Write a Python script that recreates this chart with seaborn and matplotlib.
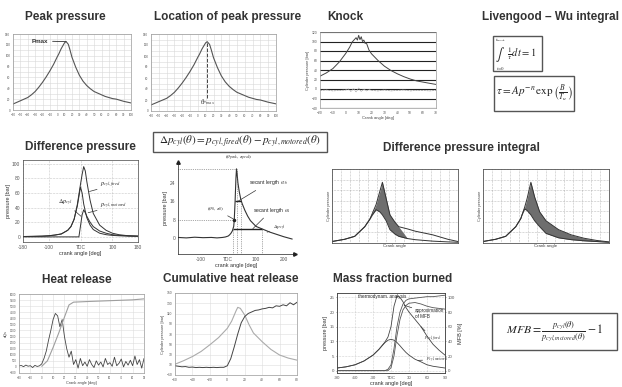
import numpy as np
import matplotlib
matplotlib.use("Agg")
import matplotlib.pyplot as plt
import matplotlib.patches as mpatches
import seaborn as sns

sns.set_theme(style="white")
plt.rcParams['font.family'] = ['Liberation Sans', 'DejaVu Sans']
plt.rcParams['mathtext.fontset'] = 'stix'

# ---------------- data ----------------
peak_angle = [-60, -55, -50, -45, -40, -35, -30, -25, -20, -15, -10, -5, 0, 2, 5, 7, 10, 12, 15, 17, 20, 25,
              30, 35, 40, 45, 50, 55, 60, 65, 70, 75, 80, 85, 90, 95, 100]
peak_pressure = [11, 14, 17, 20, 23, 28, 34, 42, 51, 61, 72, 84, 98, 103, 112, 117, 124, 126, 121, 112, 97, 79,
                 64, 53, 45, 39, 34, 31, 28, 25, 23, 21, 20, 18, 16, 14.5, 13]
peak_xticks = list(range(-60, 101, 10))
peak_yticks = list(range(0, 141, 20))

knock_angle = [-20, -15, -10, -5, 0, 3, 5, 7, 8, 9, 10, 11, 12, 13, 14, 15, 16, 18, 20, 25, 30, 35, 40, 45, 50, 55, 60, 65, 70]
knock_pressure = [27, 34, 43, 57, 75, 88, 99, 105, 108, 103, 113, 104, 110, 100, 103, 96, 97, 82, 74, 60, 48, 39, 32, 26, 21, 17, 14.5, 12, 9.6]
knock_sig_angle = [-20, -15, -10, -5, 0, 2, 4, 6, 8, 10, 12, 14, 16, 18, 20, 25, 30, 35, 40, 45, 50, 55, 60, 65, 70]
knock_sig = [-3, -2, -4, -3, -2, 0, -5, 1, -6, 2, -5, 0, -4, -1, -3, -4, -2, -4, -3, -2, -4, -3, -3, -4, -3]
knock_xticks = list(range(-20, 71, 10))
knock_yticks = list(range(-40, 121, 20))

dp_angle = [-180, -150, -120, -100, -80, -60, -40, -30, -20, -10, -5, 0, 5, 10, 15, 20, 30, 40, 60, 80, 100, 120, 150, 180]
p_motored = [0.5, 0.7, 1, 1.5, 2.5, 4, 9, 14, 24, 42, 55, 68, 60, 45, 35, 26, 16, 10, 5, 3, 2, 1.5, 1, 0.8]
p_fired = [0.5, 0.7, 1, 1.5, 2.5, 4, 9, 14, 24, 44, 58, 72, 85, 96, 90, 75, 50, 32, 16, 9, 5, 3, 1.5, 1]
dp_cyl = [0, 0, 0, 0, 0, 0, 0, 0, 0, 0, 0, 15, 30, 37, 33, 28, 20, 14, 8, 5, 3, 2, 1.5, 1]
dp_xticks = [-180, -100, 0, 100, 180]
dp_xticklabels = ['-180', '-100', 'TDC', '100', '180']

sec_angle = [-180, -150, -120, -90, -60, -40, -20, -10, 0, 5, 10, 15, 20, 22, 25, 28, 30, 32, 35, 40, 45, 50, 60, 70, 80, 100, 120, 150, 200, 230]
sec_dp = [0.2, 0.0, 0.3, 0.1, 0.2, 0.0, 0.2, 0.4, 0.8, 1.3, 2.0, 3.0, 5, 8, 16, 26, 30, 28, 24, 20, 17, 15, 12, 9.5, 7.5, 5, 4, 2.5, 0.5, -0.5]
sec_xticks = [-100, 0, 100, 200]
sec_xticklabels = ['-100', 'TDC', '100', '200']
sec_yticks = [0, 8, 16, 24]

intA_angle = [0, 10, 18, 26, 30, 32, 35, 38, 40, 43, 46, 50, 53, 60, 66, 80, 92, 100]
intA_motored = [2, 5, 9, 22, 32, 38, 45, 42, 38, 30, 18, 12, 9, 6, 4.5, 2.5, 1.5, 1]
intA_fired = [2, 5, 9, 22, 32, 40, 52, 70, 82, 60, 38, 28, 22, 19, 16, 11, 5, 2]
intB_angle = [0, 10, 18, 26, 30, 31, 33, 35, 38, 41, 45, 50, 60, 70, 80, 90, 100]
intB_motored = [2, 5, 9, 22, 33, 38, 46, 44, 38, 30, 22, 13, 7, 4.5, 3, 2, 1]
intB_fired = [2, 5, 9, 22, 33, 38, 48, 60, 82, 62, 42, 30, 18, 11, 6.5, 3.5, 1.5]

hr_angle = list(range(-20, 91, 2))
hr_rate = [80, 120, 20, 150, 60, 100, -50, 130, 40, 90, 250, 700, 1300, 2200, 3000, 3900, 4400, 4200,
           3300, 3900, 2500, 1500, 800, 1300, 200, 600, -100, 700, 100, 400, 50, 600, 200, -50, 500, 150,
           400, 0, 700, 200, 350, 50, 800, 100, 300, 650, 0, 450, 150, 550, 100, 900, 200, 600, -100, 700]
hr_cum_angle = [0, 5, 10, 15, 20, 24, 28, 40, 60, 80, 90]
hr_cum = [50, 500, 1600, 2800, 4100, 5100, 5330, 5380, 5450, 5520, 5600]
hr_xticks = list(range(-20, 91, 10))
hr_yticks = list(range(-500, 6001, 500))

chr_angle = [-60, -56, -52, -48, -44, -40, -36, -32, -28, -24, -20, -16, -12, -8, -4, 0, 4, 8, 12, 16, 20,
             24, 28, 32, 36, 40, 44, 48, 52, 56, 60, 64, 68, 72, 76, 80]
chr_cum = [8, 7, 6, 6.5, 5, 5.5, 4.5, 5, 4.5, 5, 4.5, 5, 4.5, 5, 5, 8, 22, 45, 70, 92, 104,
           110, 113, 116, 117, 119, 120, 122, 121, 125, 124, 127, 125, 131, 127, 132]
chr_p_angle = [-60, -50, -40, -30, -20, -10, 0, 5, 10, 12, 15, 20, 25, 30, 40, 50, 60, 70, 80]
chr_pressure = [11, 18, 26, 36, 49, 63, 81, 95, 115, 122, 120, 107, 88, 72, 55, 40, 29, 23, 19]
chr_xticks = list(range(-60, 81, 20))
chr_yticks = list(range(-10, 151, 20))

mfb_angle = [-90, -75, -60, -45, -30, -20, -10, -5, 0, 5, 10, 15, 20, 25, 30, 40, 50, 60, 70, 80, 90]
mfb_motored = [0.9, 1.3, 2.0, 3.3, 5.3, 7.3, 9.6, 10.4, 10.7, 10.4, 9.6, 8.5, 7.3, 6.2, 5.3, 3.9, 3.0, 2.0, 1.5, 1.2, 0.9]
mfb_fired = [0.9, 1.3, 2.0, 3.3, 5.3, 7.3, 9.8, 11.5, 15, 22, 25.5, 25, 23.5, 21.5, 20, 17.5, 15, 11.8, 9, 7, 5.3]
mfb_thermo = [0, 0, 0, 0, 0, 0, 0, 2, 8, 30, 60, 80, 91, 96, 98, 99, 100, 101, 101, 102, 103]
mfb_approx = [0, 0, 0, 0, 0, 0, 0, 0, 4, 20, 48, 70, 83, 89, 92, 93, 91, 88, 86, 85, 84]
mfb_xticks = [-90, -60, -30, 0, 30, 60, 90]
mfb_xticklabels = ['-90', '-60', '-30', 'TDC', '30', '60', '90']

# ---------------- layout helpers ----------------
W, H = 622, 387
fig = plt.figure(figsize=(6.22, 3.87), dpi=100)
fig.patch.set_facecolor('white')


def px_axes(l, t, r, b):
    ax = fig.add_axes([l / W, 1 - b / H, (r - l) / W, (b - t) / H])
    ax.set_facecolor('white')
    return ax


def ftext(x, y, s, **kw):
    return fig.text(x / W, 1 - y / H, s, **kw)


def fbox(l, t, r, b):
    fig.add_artist(mpatches.Rectangle((l / W, 1 - b / H), (r - l) / W, (b - t) / H,
                                      transform=fig.transFigure, fill=False, ec='#555555', lw=1.0))


def title(x, y, s):
    ftext(x, y, s, ha='center', va='center', fontsize=8.5, weight='bold', color='#333333')


def style(ax, fs=2.6, spine='#999999'):
    ax.tick_params(labelsize=fs, length=1, width=0.4, pad=1, colors='#555555')
    for sp in ax.spines.values():
        sp.set_linewidth(0.5)
        sp.set_color(spine)


def line(ax, x, y, color='#555555', lw=0.8, **kw):
    sns.lineplot(x=x, y=y, ax=ax, color=color, linewidth=lw, estimator=None, sort=False, **kw)


# ---------------- Peak pressure ----------------
title(65, 17, 'Peak pressure')
ax1 = px_axes(13, 34, 131, 110)
line(ax1, peak_angle, peak_pressure)
ax1.set_xlim(-60, 100); ax1.set_ylim(0, 140)
ax1.set_xticks(peak_xticks); ax1.set_yticks(peak_yticks)
ax1.set_yticks(range(0, 141, 10), minor=True)
ax1.grid(True, which='both', color='#d8d8d8', lw=0.4)
style(ax1, 2.2)
ax1.tick_params(which='minor', length=0)
ipk = int(np.argmax(peak_pressure))
ax1.annotate('Pmax', xy=(peak_angle[ipk], peak_pressure[ipk]), xytext=(-35, 127),
             fontsize=4.5, weight='bold', color='#333333', va='center',
             arrowprops=dict(arrowstyle='-', color='#333333', lw=0.6, shrinkA=1, shrinkB=0))
ax1.set_xlabel(''); ax1.set_ylabel('')

# ---------------- Location of peak pressure ----------------
title(228, 17, 'Location of peak pressure')
ax2 = px_axes(151, 34, 276, 111)
line(ax2, peak_angle, peak_pressure)
ax2.set_xlim(-60, 100); ax2.set_ylim(0, 140)
ax2.set_xticks(peak_xticks); ax2.set_yticks(peak_yticks)
ax2.set_yticks(range(0, 141, 10), minor=True)
ax2.grid(True, which='both', color='#d8d8d8', lw=0.4)
style(ax2, 2.2)
ax2.tick_params(which='minor', length=0)
ax2.vlines(peak_angle[ipk], 24, peak_pressure[ipk], colors='#444444', linestyles='--', lw=0.7)
ax2.text(peak_angle[ipk], 16, r'$\theta_{Pmax}$', fontsize=4.5, ha='center', va='center', color='#333333')
ax2.set_xlabel(''); ax2.set_ylabel('')

# ---------------- Knock ----------------
title(345, 17, 'Knock')
ax3 = px_axes(320, 32, 436, 108)
line(ax3, knock_angle, knock_pressure, color='#444444', lw=0.7)
line(ax3, knock_sig_angle, knock_sig, color='#9a9a9a', lw=0.5, linestyle=(0, (3, 1)))
ax3.set_xlim(-20, 70); ax3.set_ylim(-40, 120)
ax3.set_xticks(knock_xticks); ax3.set_yticks(knock_yticks)
ax3.grid(True, axis='y', color='#222222', lw=0.8)
style(ax3, 2.4)
ax3.set_xlabel('Crank angle [deg]', fontsize=3, labelpad=1, color='#444444')
ax3.set_ylabel('Cylinder pressure [bar]', fontsize=2.8, labelpad=1, color='#444444')

# ---------------- Livengood-Wu ----------------
title(550, 17, 'Livengood \u2013 Wu integral')
fbox(493, 36, 542, 71)
ftext(500, 54, r'$\int$', fontsize=9, ha='center', va='center')
ftext(501, 40, r'$t_{knock}$', fontsize=3.5, ha='center', va='center')
ftext(501, 68, r'$t\!=\!0$', fontsize=3.5, ha='center', va='center')
ftext(507, 54, r'$\frac{1}{\tau}dt = 1$', fontsize=7.5, ha='left', va='center')
fbox(494, 76, 574, 111)
ftext(534, 93.5, r'$\tau = Ap^{-n}\,\exp\left(\frac{B}{T_u}\right)$', fontsize=8, ha='center', va='center')

# ---------------- Difference pressure ----------------
title(80, 147, 'Difference pressure')
ax5 = px_axes(23, 160, 138, 242)
line(ax5, dp_angle, p_fired, color='#333333', lw=0.7)
line(ax5, dp_angle, p_motored, color='#333333', lw=0.7)
line(ax5, dp_angle, dp_cyl, color='#333333', lw=0.7)
ax5.set_xlim(-180, 180); ax5.set_ylim(-7, 105)
ax5.set_xticks(dp_xticks); ax5.set_xticklabels(dp_xticklabels)
ax5.set_yticks(range(0, 101, 20))
ax5.grid(True, color='#999999', lw=0.4, linestyle=':')
style(ax5, 3.5, spine='#444444')
ax5.set_xlabel('crank angle [deg]', fontsize=4, labelpad=1, color='#333333')
ax5.set_ylabel('pressure [bar]', fontsize=4, labelpad=1, color='#333333')
ap = dict(arrowstyle='-', color='#333333', lw=0.5, shrinkA=0, shrinkB=0)
ax5.annotate(r'$p_{cyl,fired}$', xy=(28, 62), xytext=(62, 70), fontsize=4.5, va='center', arrowprops=ap)
ax5.annotate(r'$\Delta p_{cyl}$', xy=(2, 28), xytext=(-72, 47), fontsize=4.5, va='center', arrowprops=ap)
ax5.annotate(r'$p_{cyl,motored}$', xy=(24, 33), xytext=(62, 42), fontsize=4.5, va='center', arrowprops=ap)

# ---------------- Delta p formula and secant panel ----------------
fbox(153, 132, 327, 152)
ftext(240, 142, r'$\Delta p_{cyl}(\theta) = p_{cyl,fired}(\theta) - p_{cyl,motored}(\theta)$',
      fontsize=8, ha='center', va='center')
ax6 = px_axes(178, 162, 295, 254)
line(ax6, sec_angle, sec_dp, color='#333333', lw=0.8)
ax6.set_xlim(-180, 240); ax6.set_ylim(-7, 33)
ax6.set_xticks(sec_xticks); ax6.set_xticklabels(sec_xticklabels)
ax6.set_yticks(sec_yticks)
style(ax6, 3.5, spine='#222222')
ax6.spines['top'].set_visible(False); ax6.spines['right'].set_visible(False)
ax6.plot(1, 0, '>', color='#222222', ms=2.5, transform=ax6.transAxes, clip_on=False)
ax6.plot(0, 1, '^', color='#222222', ms=2.5, transform=ax6.transAxes, clip_on=False)
ax6.set_xlabel('crank angle [deg]', fontsize=4, labelpad=1, color='#333333')
ax6.set_ylabel('pressure [bar]', fontsize=4, labelpad=1, color='#333333')
sa = np.array(sec_angle, float); sd = np.array(sec_dp, float)
ip = int(np.argmax(sd))
rise = (sa >= -10) & (sa <= sa[ip])
fall_x = sa[ip:][::-1]; fall_y = sd[ip:][::-1]


def cross(level):
    return np.interp(level, sd[rise], sa[rise]), np.interp(level, fall_y, fall_x)


l16, r16 = cross(16)
l4, r4 = cross(4)
l8, _ = cross(8)
ax6.hlines([16, 4], [l16, l4], [r16, r4], colors='#222222', lw=1.0)
ax6.hlines([sd[ip], 8], -180, [sa[ip], l8], colors='#555555', lw=0.5, linestyles=':')
ax6.vlines([sa[ip], r16, l4, r4], -7, [sd[ip], 16, 4, 4], colors='#555555', lw=0.5, linestyles=':')
ax6.plot([l8], [8], 'o', color='#222222', ms=1.5)
ax6.text(sa[ip] + 8, 35, r'$(\theta_{peak},\,\pi_{peak})$', fontsize=3.8, ha='center', va='center', clip_on=False)
ax6.annotate(r'secant length $\theta_{16}$', xy=((l16 + r16) / 2, 16), xytext=(75, 24), fontsize=3.6, va='center', arrowprops=ap)
ax6.annotate(r'secant length $\theta_{4}$', xy=((l4 + r4) / 2 + 20, 4), xytext=(88, 12), fontsize=3.6, va='center', arrowprops=ap)
ax6.annotate(r'$(\theta_0,\,\pi_0)$', xy=(l8, 8), xytext=(-75, 12.5), fontsize=3.8, va='center', arrowprops=ap)
ax6.annotate(r'$\Delta p_{cyl}$', xy=(140, 2.5), xytext=(160, 4.5), fontsize=3.8, va='center', arrowprops=ap)

# ---------------- Difference pressure integral ----------------
title(461, 148, 'Difference pressure integral')
for (l, r), xa, ym, yf, lim in [((332, 458), intA_angle, intA_motored, intA_fired, (30, 53)),
                                 ((483, 609), intB_angle, intB_motored, intB_fired, (30, 100))]:
    ax = px_axes(l, 169, r, 243)
    xa_ = np.array(xa, float)
    mask = (xa_ >= lim[0]) & (xa_ <= lim[1])
    ax.fill_between(xa_, ym, yf, where=mask, color='#6e6e6e', lw=0, interpolate=True)
    line(ax, xa, ym, color='#333333', lw=0.7)
    line(ax, xa, yf, color='#333333', lw=0.7)
    ax.set_xlim(0, 100); ax.set_ylim(0, 100)
    ax.set_xticks(np.linspace(0, 100, 15)); ax.set_yticks(np.linspace(0, 100, 8))
    ax.grid(True, color='#888888', lw=0.4, linestyle=':')
    ax.tick_params(length=0, labelleft=False, labelbottom=False)
    for sp in ax.spines.values():
        sp.set_linewidth(0.6); sp.set_color('#555555')
    ax.set_xlabel('Crank angle', fontsize=3.2, labelpad=1, color='#444444')
    ax.set_ylabel('Cylinder pressure', fontsize=2.8, labelpad=1, color='#444444')

# ---------------- Heat release ----------------
title(77, 280, 'Heat release')
ax8 = px_axes(19, 294, 144, 373)
line(ax8, hr_angle, hr_rate, color='#444444', lw=0.6)
line(ax8, hr_cum_angle, hr_cum, color='#9e9e9e', lw=0.8)
ax8.set_xlim(-20, 90); ax8.set_ylim(-500, 6000)
ax8.set_xticks(hr_xticks); ax8.set_yticks(hr_yticks)
ax8.grid(True, color='#dddddd', lw=0.4)
style(ax8, 2.0)
ax8.set_xlabel('Crank angle [deg]', fontsize=2.8, labelpad=1, color='#444444')
ax8.set_ylabel('dQs', fontsize=2.8, labelpad=1, color='#444444')

# ---------------- Cumulative heat release ----------------
title(231, 279, 'Cumulative heat release')
ax9 = px_axes(175, 293, 297, 375)
line(ax9, chr_p_angle, chr_pressure, color='#ababab', lw=0.8)
line(ax9, chr_angle, chr_cum, color='#444444', lw=0.7)
ax9.set_xlim(-60, 80); ax9.set_ylim(-10, 150)
ax9.set_xticks(chr_xticks); ax9.set_yticks(chr_yticks)
ax9.grid(True, color='#dddddd', lw=0.4)
style(ax9, 2.4)
ax9.set_xlabel('')
ax9.set_ylabel('Cylinder pressure [bar]', fontsize=2.8, labelpad=1, color='#444444')

# ---------------- Mass fraction burned ----------------
title(393, 279, 'Mass fraction burned')
ax10 = px_axes(337, 293, 445, 373)
line(ax10, mfb_angle, mfb_fired, color='#444444', lw=0.6)
line(ax10, mfb_angle, mfb_motored, color='#444444', lw=0.6)
ax10.set_xlim(-90, 90); ax10.set_ylim(-0.8, 26.5)
ax10.set_xticks(mfb_xticks); ax10.set_xticklabels(mfb_xticklabels)
ax10.set_yticks(range(0, 26, 5))
ax10.grid(True, color='#aaaaaa', lw=0.4, linestyle=':')
style(ax10, 3.2, spine='#444444')
ax10.set_xlabel('crank angle [deg]', fontsize=4, labelpad=1, color='#333333')
ax10.set_ylabel('pressure [bar]', fontsize=4, labelpad=1, color='#333333')
ax10r = ax10.twinx()
line(ax10r, mfb_angle, mfb_thermo, color='#555555', lw=0.6)
line(ax10r, mfb_angle, mfb_approx, color='#555555', lw=0.6)
ax10r.set_ylim(-3.2, 106)
ax10r.set_yticks(range(0, 101, 20))
style(ax10r, 3.2, spine='#444444')
ax10r.set_ylabel('MFB [%]', fontsize=4, labelpad=2, color='#333333')
ax10r.set_xlabel('')
ax10.text(-55, 25.4, 'thermodynam. analysis', fontsize=3.3, va='center')
ax10.annotate('approximation\nof MFB', xy=(22, 22.3), xytext=(40, 19.5), fontsize=3.3, va='center',
              arrowprops=ap)
ax10.annotate(r'$p_{cyl,fired}$', xy=(50, 15), xytext=(55, 11), fontsize=3.6, va='center', arrowprops=ap)
ax10.annotate(r'$p_{cyl,motored}$', xy=(45, 3.5), xytext=(58, 3.8), fontsize=3.6, va='center', arrowprops=ap)

fbox(492, 313, 617, 350)
ftext(554.5, 331.5, r'$MFB = \frac{p_{cyl}(\theta)}{p_{cyl,motored}(\theta)} - 1$', fontsize=8.5,
      ha='center', va='center')

fig.savefig('out.png', dpi=100, facecolor='white')
